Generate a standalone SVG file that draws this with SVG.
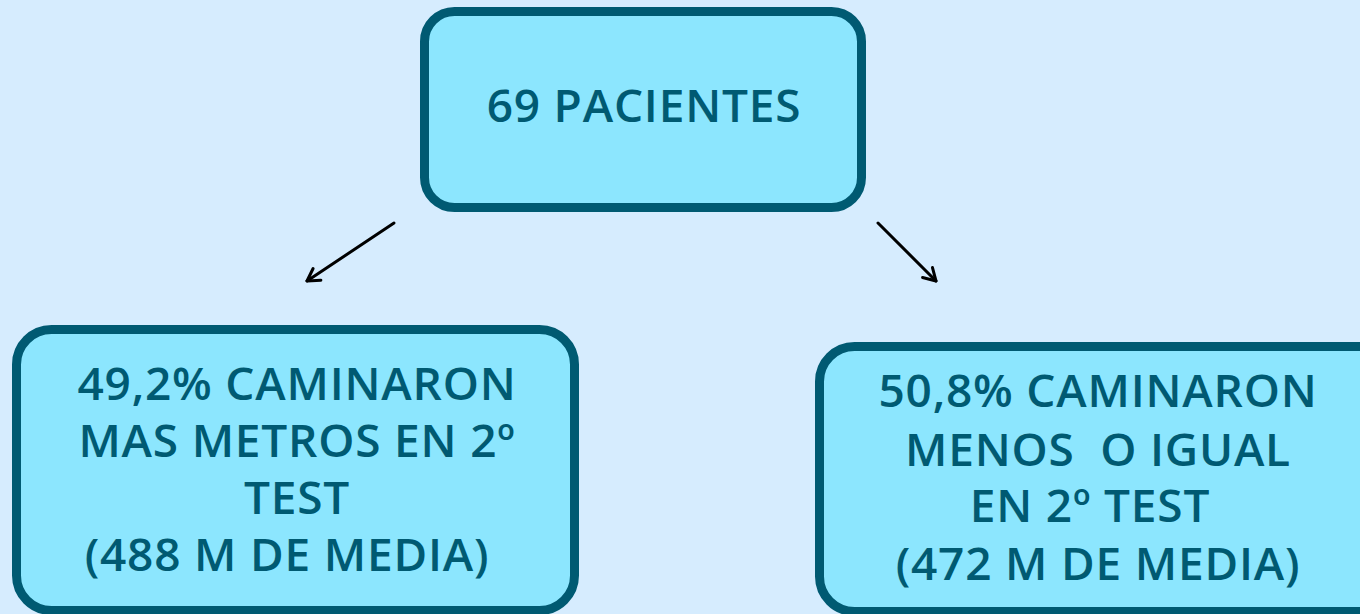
<svg xmlns="http://www.w3.org/2000/svg" width="1360" height="614" viewBox="0 0 1360 614">
<defs>
<style>
.box{fill:#8ce6fe;stroke:#005a72;stroke-width:9}
.t{font-family:"Open Sans","Noto Sans",sans-serif;font-size:46px;font-weight:600;letter-spacing:0.8px;fill:#005a72;text-anchor:middle;white-space:pre}
.c{stroke:#000;stroke-width:3;fill:none;stroke-linecap:round}
</style>
<marker id="ah" viewBox="0 0 20 20" refX="16" refY="10" markerWidth="20" markerHeight="20" markerUnits="userSpaceOnUse" orient="auto">
<path d="M4,3 L16,10 L4,17" fill="none" stroke="#000" stroke-width="3" stroke-linecap="round" stroke-linejoin="round"/>
</marker>
</defs>
<rect width="1360" height="614" fill="#d6ecfe"/>
<g id="connectors">
<line class="c" x1="394" y1="223" x2="307" y2="281" marker-end="url(#ah)"/>
<line class="c" x1="878" y1="223" x2="936" y2="281" marker-end="url(#ah)"/>
</g>
<g id="node-top">
<rect class="box" x="424.5" y="11.5" width="437" height="196" rx="30"/>
<text class="t" x="644" y="122">69 PACIENTES</text>
</g>
<g id="node-left">
<rect class="box" x="16.5" y="329.5" width="558" height="281" rx="35"/>
<text class="t" x="297" y="400">49,2% CAMINARON</text>
<text class="t" x="297" y="457">MAS METROS EN 2º</text>
<text class="t" x="297" y="514">TEST</text>
<text class="t" x="287" y="571">(488 M DE MEDIA)</text>
</g>
<g id="node-right">
<rect class="box" x="819.5" y="346.5" width="580" height="265" rx="35"/>
<text class="t" x="1098" y="407">50,8% CAMINARON</text>
<text class="t" x="1098" y="466" xml:space="preserve">MENOS  O IGUAL</text>
<text class="t" x="1090" y="522">EN 2º TEST</text>
<text class="t" x="1098" y="580">(472 M DE MEDIA)</text>
</g>
</svg>
